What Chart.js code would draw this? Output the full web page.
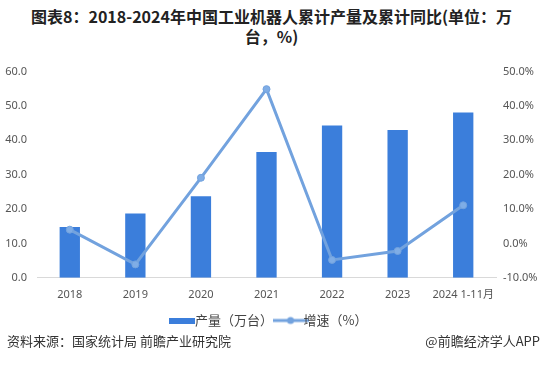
<!DOCTYPE html>
<html>
<head>
<meta charset="utf-8">
<script src="https://cdn.jsdelivr.net/npm/chart.js@4.4.1/dist/chart.umd.min.js"></script>
<style>
  html, body { margin: 0; padding: 0; background: #fff; }
  #wrap { position: relative; width: 543px; height: 369px; overflow: hidden; font-family: "Noto Sans CJK SC", "Noto Sans", sans-serif; }
  #title { position: absolute; left: 20px; right: 20px; top: 6px; text-align: center; font-size: 16px; font-weight: bold; line-height: 20px; color: #222; }
  #box { position: absolute; left: 0; top: 55px; width: 543px; height: 282px; }
  .src { position: absolute; top: 331px; font-size: 13px; color: #333; }
</style>
</head>
<body>
<div id="wrap">
  <div id="title">图表8：2018-2024年中国工业机器人累计产量及累计同比(单位：万台，%)</div>
  <div id="box"><canvas id="c"></canvas></div>
  <div class="src" style="left:7px">资料来源：国家统计局 前瞻产业研究院</div>
  <div class="src" style="right:3px">@前瞻经济学人APP</div>
</div>
<script>
// 数据
const categories = ['2018', '2019', '2020', '2021', '2022', '2023', '2024 1-11月'];
const production = [14.8, 18.7, 23.7, 36.6, 44.3, 43.0, 48.1];   // 万台
const growth     = [4.0, -6.1, 19.1, 44.9, -4.8, -2.2, 11.1];    // %

const BAR  = '#3b7edb';
const LINE = '#72a2de';

// Icônes de légende : trait + point, rectangle
function lineIcon() {
  const cv = document.createElement('canvas');
  cv.width = 36; cv.height = 10;
  const g = cv.getContext('2d');
  g.strokeStyle = LINE; g.lineWidth = 3;
  g.beginPath(); g.moveTo(0, 5); g.lineTo(36, 5); g.stroke();
  g.fillStyle = LINE;
  g.beginPath(); g.arc(18, 5, 3.5, 0, Math.PI * 2); g.fill();
  return cv;
}
function barIcon() {
  const cv = document.createElement('canvas');
  cv.width = 26; cv.height = 6;
  const g = cv.getContext('2d');
  g.fillStyle = BAR; g.fillRect(0, 0, 26, 6);
  return cv;
}

const tickFont = { family: '"Noto Sans", "Noto Sans CJK SC", sans-serif', size: 11 };

new Chart(document.getElementById('c'), {
  data: {
    labels: categories,
    datasets: [
      {
        type: 'line',
        label: '增速（%）',
        data: growth,
        yAxisID: 'y1',
        borderColor: LINE,
        backgroundColor: LINE,
        borderWidth: 3,
        pointRadius: 3.5,
        pointBackgroundColor: '#7fade6',
        pointBorderColor: LINE,
        pointBorderWidth: 1,
        tension: 0,
        order: 0,
      },
      {
        type: 'bar',
        label: '产量（万台）',
        data: production,
        yAxisID: 'y',
        backgroundColor: BAR,
        barPercentage: 0.31,
        categoryPercentage: 1.0,
        order: 1,
      },
    ],
  },
  options: {
    responsive: true,
    maintainAspectRatio: false,
    animation: false,
    layout: { padding: { top: 4, bottom: 0 } },
    plugins: {
      tooltip: { enabled: false },
      legend: {
        position: 'bottom',
        labels: {
          usePointStyle: true,
          font: { family: '"Noto Sans CJK SC", sans-serif', size: 13 },
          color: '#444',
          padding: 11,
          generateLabels: () => [
            { text: '产量（万台）', pointStyle: barIcon(), datasetIndex: 1, fontColor: '#444' },
            { text: '增速（%）', pointStyle: lineIcon(), datasetIndex: 0, fontColor: '#444' },
          ],
        },
      },
    },
    scales: {
      x: {
        grid: { display: false },
        border: { color: '#d9d9d9' },
        ticks: { color: '#555', font: tickFont, padding: 2, maxRotation: 0, autoSkip: false },
      },
      y: {
        position: 'left',
        min: 0, max: 60,
        grid: { display: false, drawTicks: false },
        border: { display: false },
        ticks: {
          stepSize: 10, color: '#555', font: tickFont, padding: 10,
          callback: (v) => v.toFixed(1),
        },
        afterFit: (s) => { s.width = 37; },
      },
      y1: {
        position: 'right',
        min: -10, max: 50,
        grid: { display: false, drawTicks: false },
        border: { display: false },
        ticks: {
          stepSize: 10, color: '#555', font: tickFont, padding: 7,
          callback: (v) => v.toFixed(1) + '%',
        },
        afterFit: (s) => { s.width = 47; },
      },
    },
  },
});
</script>
</body>
</html>
